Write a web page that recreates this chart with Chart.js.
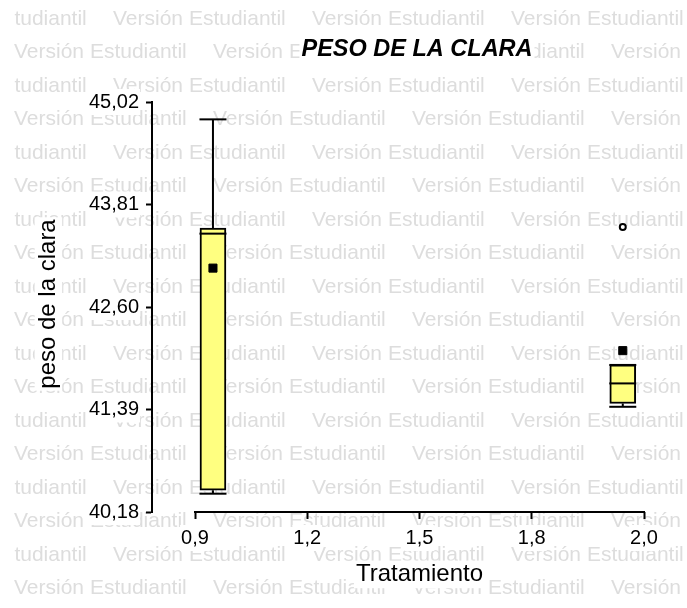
<!DOCTYPE html>
<html lang="es">
<head>
  <meta charset="UTF-8">
  <title>Peso de la clara</title>
  <script src="https://cdn.jsdelivr.net/npm/chart.js"></script>
  <style>
    html, body { margin: 0; padding: 0; background: #fff; }
    canvas { display: block; }
  </style>
</head>
<body>
  <canvas id="chart" width="687" height="608"></canvas>

  <script>
    // posiciones de cada caja sobre el eje Tratamiento
    const boxX = [0.944, 1.948];
    const whiskerMax = [44.815, 41.916];
    const q3 = [43.532, 41.916];
    const median = [43.466, 41.698];
    const q1 = [40.437, 41.461];
    const whiskerMin = [40.396, 41.422];
    const mean = [43.059, 42.085];
    const outlierX = [1.948];
    const outlierY = [43.544];

    const xTicks = [0.9, 1.175, 1.45, 1.725, 2.0];
    const xLabels = ["0,9", "1,2", "1,5", "1,8", "2,0"];
    const yTicks = [40.18, 41.39, 42.60, 43.81, 45.02];
    const yLabels = ["40,18", "41,39", "42,60", "43,81", "45,02"];

    const FONT = '"Liberation Sans", Arial, sans-serif';

    // marca de agua de fondo + textos con fondo blanco
    const decor = {
      id: "decor",
      beforeDraw(chart) {
        const ctx = chart.ctx;
        const w = chart.width, h = chart.height;
        ctx.save();
        ctx.fillStyle = "#fff";
        ctx.fillRect(0, 0, w, h);
        ctx.beginPath();
        ctx.rect(14, 0, w - 14, h);
        ctx.clip();
        ctx.font = "21px " + FONT;
        ctx.fillStyle = "#dddddd";
        ctx.textBaseline = "middle";
        for (let i = 0; i < 18; i++) {
          const y = 19 + i * 33.5;
          for (let x = (i % 2 ? 14 : -86); x < w; x += 199) {
            ctx.fillText("Versión Estudiantil", x, y);
          }
        }
        ctx.restore();
      },
      beforeDatasetsDraw(chart) {
        const ctx = chart.ctx;
        const xs = chart.scales.x;
        const y = chart.chartArea.bottom;
        ctx.save();
        ctx.strokeStyle = "#000";
        ctx.lineWidth = 2;
        ctx.beginPath();
        ctx.moveTo(xs.getPixelForValue(xTicks[0]) - 1, y);
        ctx.lineTo(xs.getPixelForValue(xTicks[xTicks.length - 1]) + 1, y);
        ctx.stroke();
        ctx.restore();
      },
      afterDraw(chart) {
        const ctx = chart.ctx;
        const xs = chart.scales.x;
        const label = (text, font, cx, base, rot) => {
          ctx.save();
          ctx.translate(cx, base);
          if (rot) ctx.rotate(rot);
          ctx.font = font;
          const tw = ctx.measureText(text).width;
          const size = parseFloat(font.match(/([\d.]+)px/)[1]);
          ctx.fillStyle = "#fff";
          ctx.fillRect(-tw / 2 - 2, -size * 0.85, tw + 4, size * 1.15);
          ctx.fillStyle = "#000";
          ctx.textAlign = "center";
          ctx.textBaseline = "alphabetic";
          ctx.fillText(text, 0, 0);
          ctx.restore();
        };
        label("PESO DE LA CLARA", "italic bold 23.5px " + FONT, 417, 56, 0);
        const midX = (xs.getPixelForValue(xTicks[0]) + xs.getPixelForValue(xTicks[xTicks.length - 1])) / 2;
        label("Tratamiento", "24px " + FONT, midX, 581, 0);
        label("peso de la clara", "24px " + FONT, 55, 304, -Math.PI / 2);
      }
    };

    const boxData = boxX.map((x, i) => ({ x: x, y: [q1[i], q3[i]] }));
    const medianData = boxX.map((x, i) => ({ x: x, y: median[i] }));
    const meanData = boxX.map((x, i) => ({ x: x, y: mean[i] }));
    const capData = [];
    const whiskerData = [];
    boxX.forEach((x, i) => {
      capData.push({ x: x, y: whiskerMax[i] }, { x: x, y: whiskerMin[i] });
      whiskerData.push({ x: x, y: q3[i] }, { x: x, y: whiskerMax[i] }, { x: x, y: null });
      whiskerData.push({ x: x, y: whiskerMin[i] }, { x: x, y: q1[i] }, { x: x, y: null });
    });
    const outlierData = outlierX.map((x, i) => ({ x: x, y: outlierY[i] }));

    const xMin = 0.9 - 43 / ((644 - 195) / 1.1);

    const tickFont = { family: FONT, size: 20 };

    new Chart(document.getElementById("chart").getContext("2d"), {
      type: "bar",
      data: {
        datasets: [
          { type: "scatter", label: "media", data: meanData, pointStyle: "rect", pointRadius: 5.7,
            backgroundColor: "#000", borderColor: "#000", borderWidth: 1 },
          { type: "scatter", label: "atípicos", data: outlierData, pointStyle: "circle", pointRadius: 3,
            backgroundColor: "#fff", borderColor: "#000", borderWidth: 2 },
          { type: "scatter", label: "mediana", data: medianData, pointStyle: "line", pointRadius: 13.5,
            borderColor: "#000", borderWidth: 2 },
          { type: "scatter", label: "extremos", data: capData, pointStyle: "line", pointRadius: 13.5,
            borderColor: "#000", borderWidth: 2 },
          { type: "line", label: "bigotes", data: whiskerData, borderColor: "#000", borderWidth: 2,
            pointRadius: 0, spanGaps: false, fill: false },
          { type: "bar", label: "caja", data: boxData, backgroundColor: "#ffff80", borderColor: "#000",
            borderWidth: 2, borderSkipped: false, barThickness: 26, order: 5 }
        ]
      },
      options: {
        responsive: false,
        maintainAspectRatio: false,
        devicePixelRatio: 1,
        animation: false,
        events: [],
        layout: { padding: { top: 102, right: 43, left: 0, bottom: 0 } },
        plugins: {
          legend: { display: false },
          title: { display: false },
          tooltip: { enabled: false }
        },
        scales: {
          x: {
            type: "linear",
            position: "bottom",
            offset: false,
            min: xMin,
            max: 2.0,
            afterBuildTicks: (s) => { s.ticks = xTicks.map(v => ({ value: v })); },
            afterFit: (s) => { s.height = 96; },
            border: { display: false },
            grid: { display: true, offset: false, drawOnChartArea: false, drawTicks: true, tickLength: 7,
                    tickWidth: 2, tickColor: "#000", color: "#000" },
            ticks: { callback: (v, i) => xLabels[i], color: "#000", font: tickFont, padding: 7,
                     autoSkip: false, maxRotation: 0, showLabelBackdrop: true,
                     backdropColor: "#fff", backdropPadding: 1 }
          },
          y: {
            type: "linear",
            min: yTicks[0],
            max: yTicks[yTicks.length - 1],
            afterBuildTicks: (s) => { s.ticks = yTicks.map(v => ({ value: v })); },
            afterFit: (s) => { s.width = 152; },
            border: { display: true, color: "#000", width: 2 },
            grid: { display: true, drawOnChartArea: false, drawTicks: true, tickLength: 6,
                    tickWidth: 2, tickColor: "#000", color: "#000" },
            ticks: { callback: (v, i) => yLabels[i], color: "#000", font: tickFont, padding: 7,
                     autoSkip: false, showLabelBackdrop: true,
                     backdropColor: "#fff", backdropPadding: 1 }
          }
        }
      },
      plugins: [decor]
    });
  </script>
</body>
</html>
